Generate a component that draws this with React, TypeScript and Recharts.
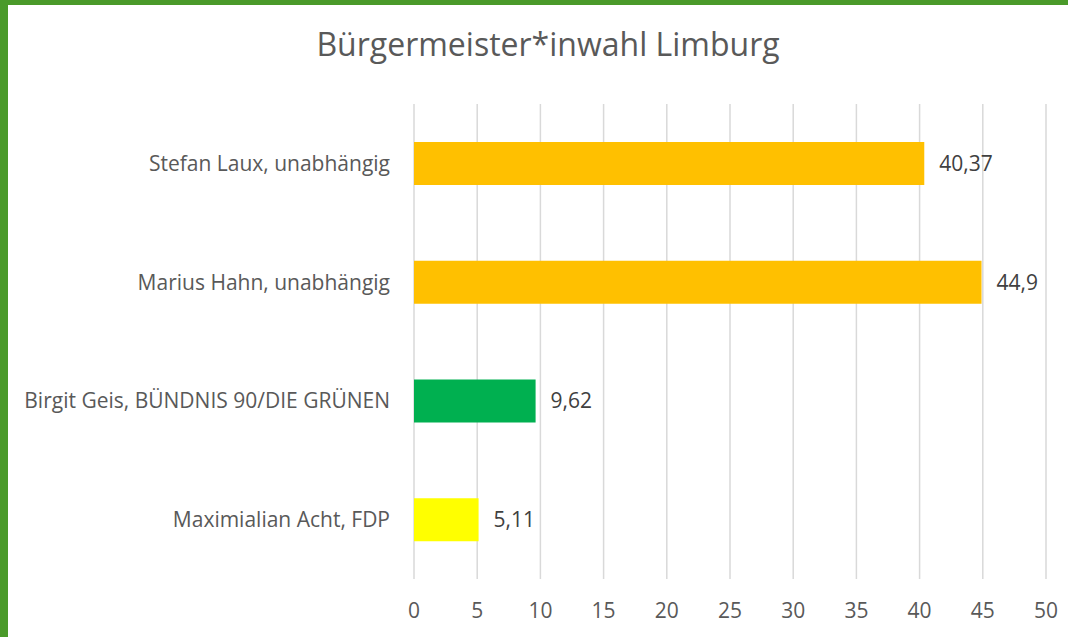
import { BarChart, Bar, XAxis, YAxis, CartesianGrid, Cell, LabelList } from 'recharts'

const candidates = [
  'Stefan Laux, unabhängig',
  'Marius Hahn, unabhängig',
  'Birgit Geis, BÜNDNIS 90/DIE GRÜNEN',
  'Maximialian Acht, FDP',
]
const shares = [40.37, 44.9, 9.62, 5.11]
const barColors = ['#FFC000', '#FFC000', '#00B050', '#FFFF00']
const xTicks = [0, 5, 10, 15, 20, 25, 30, 35, 40, 45, 50]

const data = candidates.map((name, i) => ({ name, value: shares[i] }))

const FONT = '"Open Sans", "Noto Sans", sans-serif'

export default function App() {
  return (
    <div style={{ position: 'fixed', left: 0, top: 0, width: 1068, height: 637, background: '#4a9a2a', fontFamily: FONT }}>
      <div style={{ position: 'absolute', left: 8, top: 5, right: 0, bottom: 0, background: '#fff' }} />
      <div style={{
        position: 'absolute', left: 0, top: 22, width: 1096, textAlign: 'center',
        fontSize: 32, color: '#595959',
      }}>
        Bürgermeister*inwahl Limburg
      </div>
      <div style={{ position: 'absolute', left: 0, top: 0 }}>
        <BarChart
          width={1068}
          height={637}
          data={data}
          layout="vertical"
          barCategoryGap="32%"
          margin={{ top: 104, right: 22, bottom: 0, left: 0 }}
        >
          <CartesianGrid horizontal={false} stroke="#d9d9d9" strokeWidth={1.5} />
          <XAxis
            type="number"
            domain={[0, 50]}
            ticks={xTicks}
            axisLine={false}
            tickLine={false}
            tickSize={0}
            tickMargin={24}
            height={58}
            tick={{ fill: '#595959', fontSize: 21, fontFamily: FONT }}
          />
          <YAxis
            type="category"
            dataKey="name"
            width={414}
            axisLine={false}
            tickLine={false}
            tickSize={0}
            tickMargin={24}
            tick={{ fill: '#595959', fontSize: 21, fontFamily: FONT }}
          />
          <Bar dataKey="value" isAnimationActive={false}>
            {data.map((d, i) => (
              <Cell key={d.name} fill={barColors[i]} />
            ))}
            <LabelList
              dataKey="value"
              position="right"
              offset={15}
              formatter={(v: number) => String(v).replace('.', ',')}
              style={{ fill: '#404040', fontSize: 21, fontFamily: FONT }}
            />
          </Bar>
        </BarChart>
      </div>
    </div>
  )
}
